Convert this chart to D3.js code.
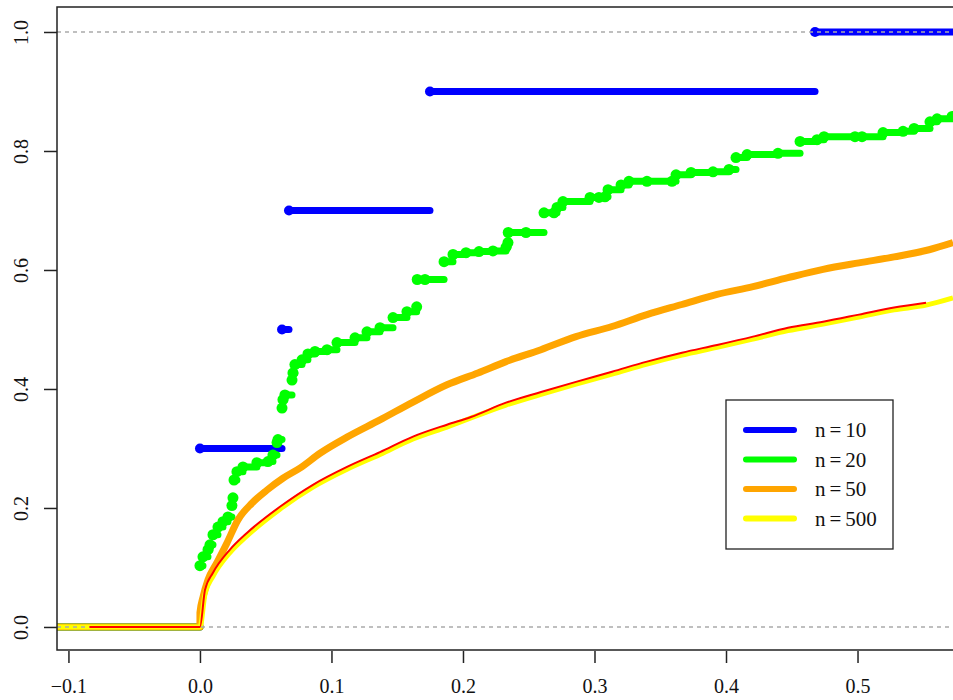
<!DOCTYPE html>
<html>
<head>
<meta charset="utf-8">
<script src="https://cdn.jsdelivr.net/npm/d3@7"></script>
<style>
  body { margin: 0; background: #fff; }
  text { font-family: "Liberation Serif", "DejaVu Serif", serif; fill: #111; }
</style>
</head>
<body>
<div id="chart"></div>
<script>

// tick labels
const xTicks = [-0.1, 0, 0.1, 0.2, 0.3, 0.4, 0.5];
const yTicks = [0, 0.2, 0.4, 0.6, 0.8, 1.0];

// n=10 : jump points of the ecdf
const n10X = [0.0, 0.0624, 0.0677, 0.1749, 0.4677];
const n10F = [0.3, 0.5, 0.7, 0.9, 1.0];

// n=20 : jump points
const n20X = [0.000, 0.0023, 0.0061, 0.0076, 0.0099, 0.0137, 0.0175, 0.0213, 0.0243, 0.0251,
              0.0259, 0.0281, 0.0327, 0.0433, 0.0517, 0.0555, 0.0586, 0.0593, 0.0624, 0.0631,
              0.0646, 0.0700, 0.0707, 0.0722, 0.0776, 0.0821, 0.0875, 0.0966, 0.1042, 0.1179,
              0.1270, 0.1369, 0.1468, 0.1574, 0.1648, 0.1652, 0.1711, 0.1856, 0.1924, 0.2023,
              0.2122, 0.2228, 0.2327, 0.2342, 0.2344, 0.2479, 0.2616, 0.2692, 0.2715, 0.2760,
              0.2966, 0.3034, 0.3080, 0.3103, 0.3202, 0.3262, 0.3399, 0.3589, 0.3620, 0.3734,
              0.3901, 0.4023, 0.4076, 0.4160, 0.4395, 0.4563, 0.4692, 0.4745, 0.4981, 0.5034,
              0.5194, 0.5346, 0.5430, 0.5551, 0.5605, 0.5719];
const n20F = [0.103, 0.118, 0.130, 0.138, 0.155, 0.168, 0.177, 0.185, 0.204, 0.217,
              0.247, 0.261, 0.269, 0.276, 0.278, 0.289, 0.310, 0.315, 0.368, 0.382,
              0.390, 0.415, 0.427, 0.441, 0.449, 0.459, 0.463, 0.466, 0.478, 0.486,
              0.496, 0.503, 0.520, 0.530, 0.538, 0.584, 0.584, 0.614, 0.626, 0.629,
              0.631, 0.632, 0.638, 0.646, 0.663, 0.663, 0.696, 0.696, 0.705, 0.715,
              0.722, 0.722, 0.723, 0.735, 0.743, 0.749, 0.749, 0.749, 0.760, 0.764,
              0.765, 0.769, 0.789, 0.794, 0.796, 0.816, 0.819, 0.824, 0.824, 0.824,
              0.831, 0.833, 0.838, 0.849, 0.854, 0.858];

// n=50
const n50X = [-0.12, 0.0, 0.0, 0.0023, 0.0061, 0.0129, 0.0205, 0.0289, 0.0395, 0.0509, 0.0631,
              0.0760, 0.0913, 0.1118, 0.1369, 0.1620, 0.1878, 0.2114, 0.2327, 0.2593, 0.2859,
              0.3133, 0.3399, 0.3665, 0.3932, 0.4205, 0.4471, 0.4738, 0.5011, 0.5278, 0.5544, 0.5726];
const n50F = [0, 0, 0.024, 0.050, 0.079, 0.108, 0.141, 0.180, 0.208, 0.230, 0.250,
              0.267, 0.292, 0.319, 0.348, 0.378, 0.407, 0.427, 0.446, 0.466, 0.488,
              0.505, 0.525, 0.542, 0.559, 0.572, 0.587, 0.601, 0.612, 0.622, 0.634, 0.646];

// n=500 : traced
const n500X = [-0.12, 0.0, 0.0038, 0.0099, 0.0228, 0.0357, 0.0608, 0.0859, 0.1118, 0.1369, 0.1620,
               0.1878, 0.2327, 0.2593, 0.2859, 0.3133, 0.3399, 0.3665, 0.3932, 0.4205, 0.4471,
               0.4738, 0.5011, 0.5278, 0.5521, 0.5726];
const n500F = [0, 0, 0.055, 0.085, 0.125, 0.153, 0.198, 0.235, 0.265, 0.290, 0.316,
               0.336, 0.373, 0.391, 0.408, 0.425, 0.442, 0.457, 0.470, 0.484, 0.498,
               0.509, 0.521, 0.533, 0.541, 0.553];

// true cdf (red)
const trueX = [-0.084, 0.0, 0.0038, 0.0099, 0.0228, 0.0357, 0.0608, 0.0859, 0.1118, 0.1369, 0.1620,
               0.1878, 0.2061, 0.2327, 0.2593, 0.2859, 0.3133, 0.3399, 0.3665, 0.3932, 0.4205,
               0.4471, 0.4738, 0.5011, 0.5278, 0.5521];
const trueF = [0, 0, 0.062, 0.091, 0.130, 0.158, 0.202, 0.239, 0.269, 0.294, 0.320,
               0.340, 0.353, 0.377, 0.395, 0.412, 0.429, 0.446, 0.461, 0.474, 0.488,
               0.503, 0.513, 0.525, 0.537, 0.545];

const legendLabels = [["n", "10"], ["n", "20"], ["n", "50"], ["n", "500"]];
const legendColors = ["#0000ff", "#00ff00", "#ffa500", "#ffff00"];

function drawChart() {

    const dimensions = {
        width: 953,
        height: 700,
        margin: { top: 7, bottom: 50, left: 57 }
    };
    const plotBottom = dimensions.height - dimensions.margin.bottom;

    const svg = d3.select("#chart")
        .append("svg")
        .attr("width", dimensions.width)
        .attr("height", dimensions.height);

    const xScale = d3.scaleLinear()
        .domain([-0.1087, 0.5726])
        .range([dimensions.margin.left, dimensions.width]);

    const yScale = d3.scaleLinear()
        .domain([-0.0387, 1.042])
        .range([plotBottom, dimensions.margin.top]);

    svg.append("clipPath")
        .attr("id", "plot-clip")
        .append("rect")
        .attr("x", dimensions.margin.left)
        .attr("y", dimensions.margin.top)
        .attr("width", dimensions.width)
        .attr("height", plotBottom - dimensions.margin.top);

    const plot = svg.append("g").attr("clip-path", "url(#plot-clip)");

    // step ecdf with points at the jumps (no verticals)
    function drawStep(xs, fs, color, lw, r) {
        const segs = [[-0.2, xs[0], 0]];
        xs.forEach((x, i) => segs.push([x, i < xs.length - 1 ? xs[i + 1] : 0.8, fs[i]]));
        const g = plot.append("g");
        g.selectAll("line")
            .data(segs)
            .join("line")
            .attr("x1", d => xScale(d[0]))
            .attr("x2", d => xScale(d[1]))
            .attr("y1", d => yScale(d[2]))
            .attr("y2", d => yScale(d[2]))
            .attr("stroke", color)
            .attr("stroke-width", lw)
            .attr("stroke-linecap", "round");
        g.selectAll("circle")
            .data(xs.map((x, i) => [x, fs[i]]))
            .join("circle")
            .attr("cx", d => xScale(d[0]))
            .attr("cy", d => yScale(d[1]))
            .attr("r", r)
            .attr("fill", color);
    }

    function drawCurve(xs, fs, color, lw, curve) {
        plot.append("path")
            .datum(xs.map((x, i) => [x, fs[i]]))
            .attr("fill", "none")
            .attr("stroke", color)
            .attr("stroke-width", lw)
            .attr("stroke-linejoin", "round")
            .attr("stroke-linecap", "butt")
            .attr("d", d3.line()
                .curve(curve || d3.curveLinear)
                .x(d => xScale(d[0]))
                .y(d => yScale(d[1]))
            );
    }

    drawStep(n10X, n10F, "#0000ff", 7, 5);
    drawStep(n20X, n20F, "#00ff00", 7, 5.5);
    drawCurve(n50X, n50F, "#ffa500", 7, d3.curveMonotoneX);
    drawCurve(n500X, n500F, "#ffff00", 5, d3.curveMonotoneX);

    // reference lines
    plot.selectAll(".hline")
        .data([0, 1])
        .join("line")
        .attr("class", "hline")
        .attr("x1", dimensions.margin.left)
        .attr("x2", dimensions.width)
        .attr("y1", d => yScale(d))
        .attr("y2", d => yScale(d))
        .attr("stroke", "#ababab")
        .attr("stroke-width", 1.5)
        .attr("stroke-dasharray", "4,4");

    drawCurve(trueX, trueF, "#ff0000", 2, d3.curveMonotoneX);

    // box (right side is outside the picture)
    svg.append("path")
        .attr("d", `M${dimensions.width + 5},${dimensions.margin.top}H${dimensions.margin.left}V${plotBottom}H${dimensions.width + 5}`)
        .attr("fill", "none")
        .attr("stroke", "#222")
        .attr("stroke-width", 1.5);

    const fmt = d => d3.format(".1f")(d).replace("-", "\u2212");

    const xAxis = d3.axisBottom(xScale)
        .tickValues(xTicks)
        .tickSize(12)
        .tickPadding(16)
        .tickFormat(fmt);

    const yAxis = d3.axisLeft(yScale)
        .tickValues(yTicks)
        .tickSize(13)
        .tickFormat(fmt);

    const xAxisGroup = svg.append("g")
        .attr("transform", `translate(0, ${plotBottom + 1})`)
        .call(xAxis);

    const yAxisGroup = svg.append("g")
        .attr("transform", `translate(${dimensions.margin.left}, 0)`)
        .call(yAxis);

    [xAxisGroup, yAxisGroup].forEach(g => {
        g.select(".domain").remove();
        g.selectAll(".tick line").attr("stroke", "#222").attr("stroke-width", 1.5);
        g.selectAll(".tick text")
            .attr("font-family", "Liberation Serif, DejaVu Serif, serif")
            .attr("font-size", 20)
            .attr("fill", "#111");
    });

    yAxisGroup.selectAll(".tick text")
        .attr("x", null)
        .attr("dy", null)
        .attr("text-anchor", "middle")
        .attr("transform", "translate(-29, 0) rotate(-90)");

    // legend
    const legend = svg.append("g").attr("transform", "translate(726, 400)");
    legend.append("rect")
        .attr("width", 167)
        .attr("height", 149)
        .attr("fill", "#fff")
        .attr("stroke", "#222")
        .attr("stroke-width", 1.3);

    const rows = legend.selectAll(".row")
        .data(legendLabels)
        .join("g")
        .attr("class", "row")
        .attr("transform", (d, i) => `translate(0, ${30 + i * 29.5})`);

    rows.append("line")
        .attr("x1", 20)
        .attr("x2", 68)
        .attr("stroke", (d, i) => legendColors[i])
        .attr("stroke-width", 6)
        .attr("stroke-linecap", "round");

    const labels = rows.append("text")
        .attr("x", 89)
        .attr("y", 7)
        .attr("font-size", 21);
    labels.append("tspan").text(d => d[0]);
    labels.append("tspan").attr("dx", 4).text("=");
    labels.append("tspan").attr("dx", 4).text(d => d[1]);
}

drawChart();
</script>
</body>
</html>
